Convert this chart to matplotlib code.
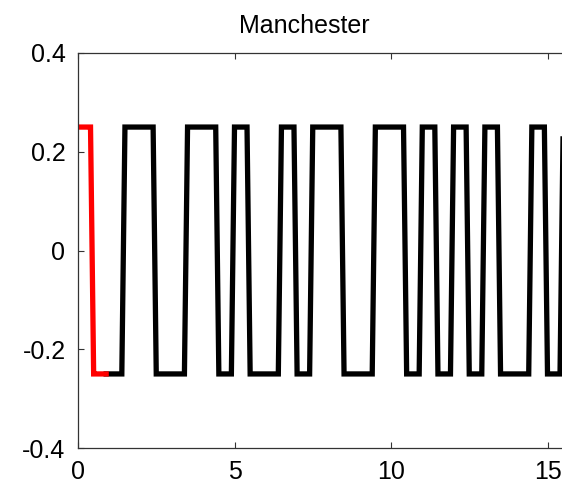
import matplotlib
matplotlib.use('Agg')
import matplotlib.pyplot as plt
import numpy as np

plt.rcParams['font.family'] = ['Liberation Sans', 'DejaVu Sans']

# bit sequence (1 = high->low, 0 = low->high)
bits = [1, 0, 1, 0, 1, 1, 0, 0, 1, 0, 1, 1, 1, 1, 0, 0]
amp = 0.25
samples_per_half = 5
dt = 0.1

x_ticks = [0, 5, 10, 15]
y_ticks = [-0.4, -0.2, 0, 0.2, 0.4]
y_tick_labels = ['-0.4', '-0.2', '0', '0.2', '0.4']

# manchester levels per half bit, then per sample
halves = []
for b in bits:
    halves += [amp, -amp] if b else [-amp, amp]
sig = np.repeat(halves, samples_per_half)
t = np.arange(len(sig)) * dt
n_first = 2 * samples_per_half  # first bit drawn in red

fig = plt.figure(figsize=(5.62, 4.84), dpi=100)
W, H = 562, 484
ax = fig.add_axes([78 / W, (H - 448) / H, 16 * 31.3 / W, 395 / H])

ax.plot(t[n_first - 1:], sig[n_first - 1:], color='black', lw=3.8,
        solid_joinstyle='miter')
ax.plot(t[:n_first], sig[:n_first], color='#ff0000', lw=3.8,
        solid_joinstyle='miter')

ax.set_xlim(0, 16)
ax.set_ylim(-0.4, 0.4)
ax.set_xticks(x_ticks)
ax.set_xticklabels([str(v) for v in x_ticks])
ax.set_yticks(y_ticks)
ax.set_yticklabels(y_tick_labels)
ax.tick_params(direction='in', length=4, width=0.8, color='#333333',
               labelsize=18, top=True, right=True)
ax.tick_params(axis='y', pad=9)
ax.tick_params(axis='x', pad=8.5)
for s in ax.spines.values():
    s.set_color('#333333')
    s.set_linewidth(0.9)

fig.text(304 / W, 1 - 33 / H, 'Manchester', ha='center', va='baseline',
         fontsize=18)

fig.savefig('out.png', dpi=100)
